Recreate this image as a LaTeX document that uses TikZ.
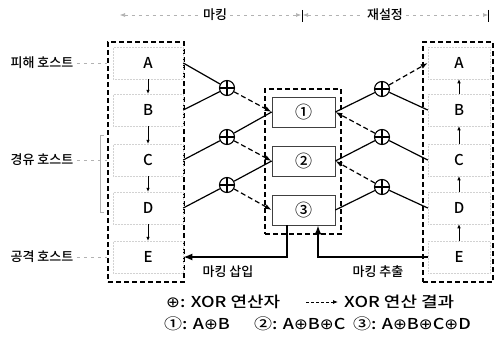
\documentclass[tikz,border=0pt]{standalone}
\usepackage{fontspec}
\setmainfont{Noto Sans CJK KR}[UprightFont={* Medium}]
\newfontfamily\lgfont{Noto Sans CJK KR}[UprightFont={* Medium},FakeStretch=1.2]
\newfontfamily\symfont{DejaVu Sans}[FakeStretch=1.1]
\usetikzlibrary{arrows.meta,positioning}

\newcommand{\xo}{{\symfont ⊕}}

\tikzset{
  dbox/.style={draw,line width=1.2pt,dash pattern=on 5pt off 3pt},
  cell/.style={draw=gray!35,densely dotted,line width=.5pt,minimum height=32,font=\fontsize{15}{15}\selectfont},
  numbox/.style={draw=black!75,line width=.7pt,minimum width=63,minimum height=30,font=\fontsize{17}{17}\selectfont},
  xor/.style={circle,draw,line width=1.1pt,minimum size=15,inner sep=0pt,
    path picture={\draw[line width=1.1pt] (path picture bounding box.north)--(path picture bounding box.south)
      (path picture bounding box.west)--(path picture bounding box.east);}},
  sol/.style={line width=1.2pt},
  res/.style={line width=1.2pt,dash pattern=on 5pt off 3pt,-{Latex[length=7pt,width=5pt]}},
  markarrow/.style={line width=2.4pt,-{Latex[length=9pt,width=7pt]}},
  host/.style={font=\fontsize{13}{13}\selectfont},
  legend/.style={anchor=west,inner sep=0pt,font=\lgfont\fontsize{15}{15}\selectfont},
  hlink/.style={draw=gray!60,line width=.6pt,dash pattern=on 3pt off 4pt},
  tiny/.style={line width=.6pt,-{Latex[length=4pt,width=3.5pt]}},
}

\begin{document}
\begin{tikzpicture}[x=1pt,y=-1pt]
\useasboundingbox (0,0) rectangle (497,345);
% header
\node[host] (mk) at (215,15) {마킹};
\node[host] (rs) at (385,15) {재설정};
\coordinate (h0) at (120,15);
\coordinate (h1) at (302,15);
\coordinate (h2) at (488,15);
\draw[hlink,{Latex[length=5pt,width=4pt]}-] (h0) -- (mk.west);
\draw[hlink,-{Latex[length=5pt,width=4pt]}] (mk.east) -- ([xshift=-1pt]h1);
\draw[hlink,{Latex[length=5pt,width=4pt]}-] ([xshift=1pt]h1) -- (rs.west);
\draw[hlink,-{Latex[length=5pt,width=4pt]}] (rs.east) -- (h2);
\draw[line width=.8pt] ([yshift=5pt]h1) -- ([yshift=-7pt]h1);
\draw[line width=.8pt] ([yshift=5pt]h2) -- ([yshift=-7pt]h2);

% outer boxes
\node[dbox,minimum width=76,minimum height=240] (lbox) at (146,162) {};
\node[dbox,minimum width=76,minimum height=145] (mbox) at (303,161.5) {};
\node[dbox,minimum width=70,minimum height=240] (rbox) at (458,162) {};

% hosts
\node[cell,minimum width=70] (lA) at (148,63) {A};
\node[cell,minimum width=70] (lB) at (148,110) {B};
\node[cell,minimum width=70] (lC) at (148,160) {C};
\node[cell,minimum width=70] (lD) at (148,208) {D};
\node[cell,minimum width=70] (lE) at (148,257) {E};
\node[cell,minimum width=62] (rA) at (459,63) {A};
\node[cell,minimum width=62] (rB) at (459,110) {B};
\node[cell,minimum width=62] (rC) at (459,160) {C};
\node[cell,minimum width=62] (rD) at (459,208) {D};
\node[cell,minimum width=62] (rE) at (459,257) {E};
\foreach \a/\b in {lA/lB,lB/lC,lC/lD,lD/lE}{\draw[tiny] (\a.south) -- (\b.north);}
\foreach \a/\b in {rE/rD,rD/rC,rC/rB,rB/rA}{\draw[tiny] (\a.north) -- (\b.south);}

% host labels
\node[host] (pv) at (42,63) {피해 호스트};
\node[host] (pt) at (42,160) {경유 호스트};
\node[host] (pa) at (42,257) {공격 호스트};
\draw[hlink] (pv.east) -- (pv -| lbox.west);
\draw[hlink] (pt.east) -- (pt -| lbox.west);
\draw[hlink] (pa.east) -- (pa -| lbox.west);
\draw[gray!60,line width=.6pt] (104,135) -- (100,135) -- (100,212) -- (104,212);

% markings
\node[numbox] (m1) at (303.5,112) {①};
\node[numbox] (m2) at (303.5,161) {②};
\node[numbox] (m3) at (303.5,210) {③};

% xor, marking side
\node[xor] (xl1) at (227,88) {};
\node[xor] (xl2) at (227,137) {};
\node[xor] (xl3) at (227,185) {};
\draw[sol] (lA.east) -- (xl1);
\draw[sol] (lB.east) -- (xl1);
\draw[res] (xl1) -- (m1.west);
\draw[sol] (m1.west) -- (xl2);
\draw[sol] (lC.east) -- (xl2);
\draw[res] (xl2) -- (m2.west);
\draw[sol] (m2.west) -- (xl3);
\draw[sol] (lD.east) -- (xl3);
\draw[res] (xl3) -- (m3.west);

% xor, reset side
\node[xor] (xr1) at (382,89) {};
\node[xor] (xr2) at (382,137) {};
\node[xor] (xr3) at (382,187) {};
\draw[sol] (m1.east) -- (xr1);
\draw[sol] (xr1) -- (rB.west);
\draw[res] (xr1) -- (rA.west);
\draw[sol] (m2.east) -- (xr2);
\draw[sol] (xr2) -- (rC.west);
\draw[res] (xr2) -- (m1.east);
\draw[sol] (m3.east) -- (xr3);
\draw[sol] (xr3) -- (rD.west);
\draw[res] (xr3) -- (m2.east);

% insert / extract
\draw[markarrow] ([xshift=-16.5pt]m3.south) |- (lE.east);
\draw[markarrow] (rE.west) -| ([xshift=14.5pt]m3.south);
\node[host] (ins) at (228,272) {마킹 삽입};
\node[host] (ext) at (378,272) {마킹 추출};

% legend
\node[legend] (lg1) at (166,302) {\xo: XOR 연산자};
\coordinate (la0) at (306,302);
\coordinate (la1) at (338,302);
\draw[res,line width=.8pt,dash pattern=on 3pt off 2pt,-{Latex[length=5pt,width=4pt]}] (la0) -- (la1);
\node[legend] (lg2) at (344,302) {XOR 연산 결과};
\node[legend] (lg3) at (164,324) {①: A\xo B};
\node[legend] (lg4) at (254,324) {②: A\xo B\xo C};
\node[legend] (lg5) at (353,324) {③: A\xo B\xo C\xo D};
\end{tikzpicture}
\end{document}
